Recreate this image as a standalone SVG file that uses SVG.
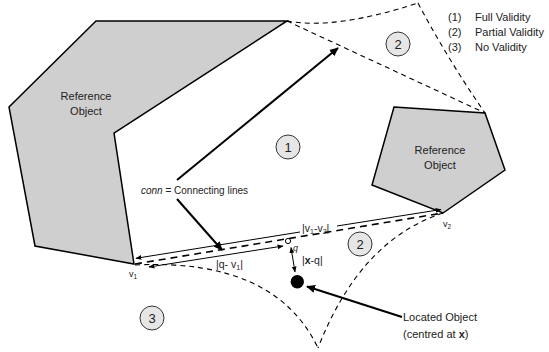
<svg xmlns="http://www.w3.org/2000/svg" width="549" height="352" viewBox="0 0 549 352">
<style>
text{font-family:"Liberation Sans",Arial,sans-serif;fill:#222}
.obj{fill:#cfcfcf;stroke:#000;stroke-width:1.5;stroke-linejoin:miter}
.reg{fill:none;stroke:#000;stroke-width:1.1;stroke-dasharray:5 4}
.conn{fill:none;stroke:#000;stroke-width:1.6;stroke-dasharray:7 5}
.thick{fill:none;stroke:#000;stroke-width:2}
.thin{fill:none;stroke:#000;stroke-width:1}
.badge circle{fill:#e6e6e6;stroke:#333;stroke-width:1}
.badge text{font-size:13px;text-anchor:middle}
.lbl{font-size:11px}
.mid{text-anchor:middle}
</style>
<defs>
<marker id="ab" viewBox="0 0 10 10" refX="9" refY="5" markerWidth="4.5" markerHeight="4.5" orient="auto-start-reverse"><path d="M0,0.5 L10,5 L0,9.5 z" fill="#000"/></marker>
<marker id="as" viewBox="0 0 10 10" refX="9" refY="5" markerWidth="6" markerHeight="6" orient="auto-start-reverse"><path d="M0,1 L10,5 L0,9 z" fill="#000"/></marker>
</defs>

<g id="refobj-left">
<polygon class="obj" points="96,21 287,21 114,133 134,264 35,246 9,107"/>
<text class="lbl mid" x="86" y="100">Reference</text>
<text class="lbl mid" x="86" y="115">Object</text>
</g>

<g id="refobj-right">
<polygon class="obj" points="394,107 485,113 505,170 443,213 372,185"/>
<text class="lbl mid" x="440" y="154">Reference</text>
<text class="lbl mid" x="440" y="169">Object</text>
</g>

<g id="regions">
<path class="reg" d="M287,21 Q335,30 418,3"/>
<path class="reg" d="M418,3 Q447,58 485,113"/>
<path class="reg" d="M287,21 L485,113"/>
<path class="reg" d="M443,213 Q360,240 318,348"/>
<path class="reg" d="M135,265 Q275,258 318,348"/>
</g>

<g id="badge-1" class="badge"><circle cx="288" cy="147" r="12"/><text x="288" y="152">1</text></g>
<g id="badge-2a" class="badge"><circle cx="398" cy="44" r="12"/><text x="398" y="49">2</text></g>
<g id="badge-2b" class="badge"><circle cx="360" cy="244" r="12"/><text x="360" y="249">2</text></g>
<g id="badge-3" class="badge"><circle cx="152" cy="318" r="12"/><text x="152" y="323">3</text></g>

<g id="legend" class="lbl">
<text x="448" y="21">(1)</text><text x="475" y="21">Full Validity</text>
<text x="448" y="36">(2)</text><text x="475" y="36">Partial Validity</text>
<text x="448" y="51">(3)</text><text x="475" y="51">No Validity</text>
</g>

<g id="connectors">
<path class="conn" d="M135,264 L443,213"/>
<path class="thin" d="M136,258.3 L300,232" marker-start="url(#as)"/>
<path class="thin" d="M337,226 L441,209.5" marker-end="url(#as)"/>
<path class="thin" d="M149,267 L283,246" marker-start="url(#as)" marker-end="url(#as)"/>
<path class="thin" d="M291,247.5 L295,272" marker-start="url(#as)" marker-end="url(#as)"/>
<path class="thick" d="M177,180 L338,48" marker-end="url(#ab)"/>
<path class="thick" d="M177,199 L222,250" marker-end="url(#ab)"/>
<path class="thick" d="M402,317 L307,286.5" marker-end="url(#ab)"/>
</g>

<g id="q-point">
<circle cx="288" cy="241" r="2.6" fill="#fff" stroke="#000" stroke-width="1"/>
<text x="293" y="251" font-size="9" font-style="italic">q</text>
</g>

<g id="located-object">
<circle cx="297.3" cy="281.7" r="6.7" fill="#000"/>
<text class="lbl" x="403" y="321">Located Object</text>
<text class="lbl" x="403" y="338">(centred at <tspan font-weight="bold">x</tspan>)</text>
</g>

<g id="labels">
<text x="141" y="194" font-size="10"><tspan font-style="italic">conn</tspan> = Connecting lines</text>
<text x="302" y="232" font-size="10.5">|v<tspan font-size="7" dy="2">1</tspan><tspan dy="-2">-v</tspan><tspan font-size="7" dy="2">2</tspan><tspan dy="-2">|</tspan></text>
<text x="216" y="268" font-size="10.5">|q- v<tspan font-size="7" dy="2">1</tspan><tspan dy="-2">|</tspan></text>
<text x="302" y="264" font-size="10.5">|<tspan font-weight="bold">x</tspan>-q|</text>
<text x="129" y="277" font-size="9">v<tspan font-size="6.5" dy="1.5">1</tspan></text>
<text x="443" y="227" font-size="9">v<tspan font-size="6.5" dy="1.5">2</tspan></text>
</g>
</svg>
